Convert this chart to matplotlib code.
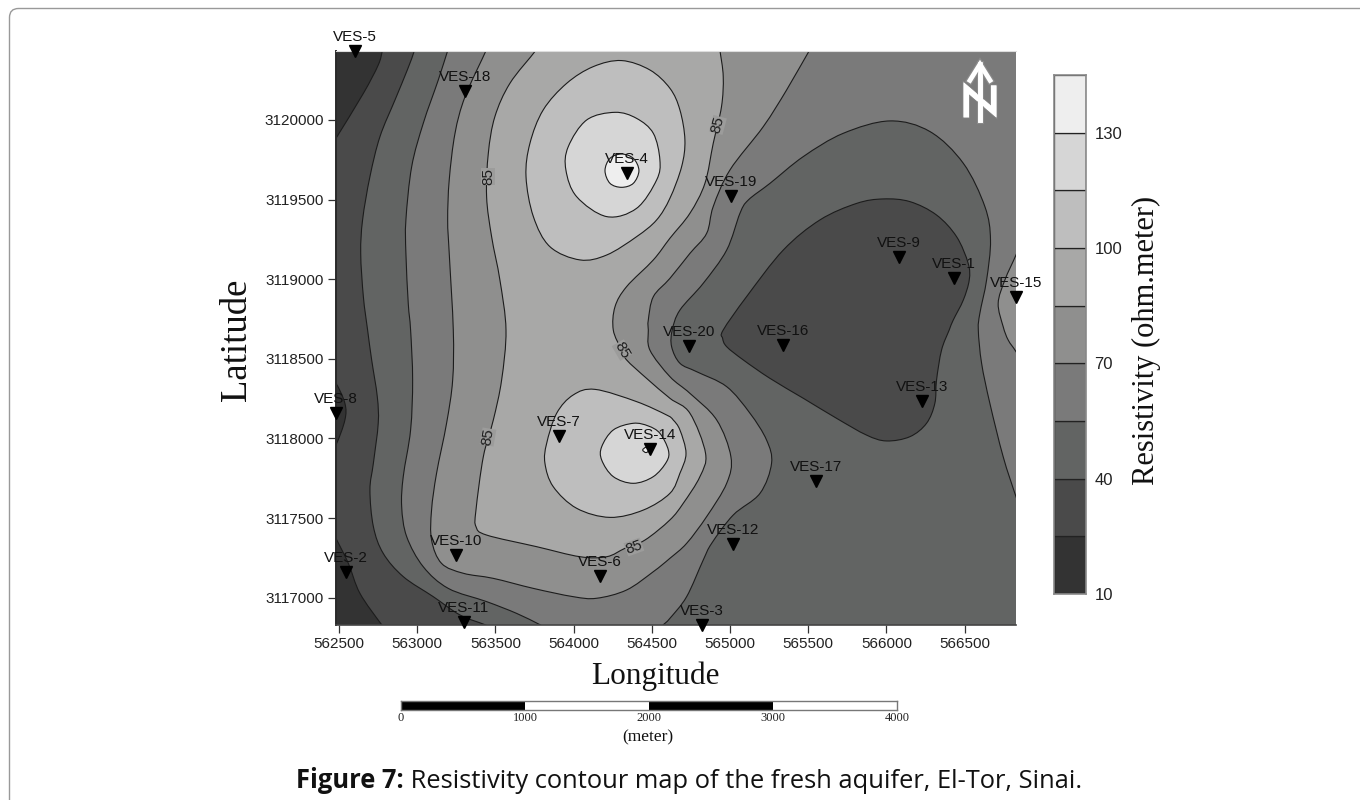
"""
plot.py
=====
resistivity contour map of the fresh aquifer, El-Tor, Sinai
contour lines and VES stations are read off the published map
"""
import matplotlib
matplotlib.use('Agg')
import matplotlib.pyplot as plt
import matplotlib.patheffects as pe
from matplotlib.patches import FancyBboxPatch, PathPatch
from matplotlib.path import Path
from matplotlib.transforms import IdentityTransform

# ===== stations
ves_names = ['VES-1', 'VES-2', 'VES-3', 'VES-4', 'VES-5', 'VES-6', 'VES-7',
             'VES-8', 'VES-9', 'VES-10', 'VES-11', 'VES-12', 'VES-13',
             'VES-14', 'VES-15', 'VES-16', 'VES-17', 'VES-18', 'VES-19',
             'VES-20']
ves_lon = [566432, 562545, 564821, 564341, 562602, 564169, 563907, 562481,
           566081, 563248, 563299, 565019, 566228, 564489, 566829, 565339,
           565550, 563306, 565006, 564738]
ves_lat = [3119008, 3117161, 3116828, 3119667, 3120433, 3117136, 3118015,
           3118160, 3119140, 3117268, 3116847, 3117337, 3118235, 3117934,
           3118888, 3118587, 3117733, 3120182, 3119523, 3118581]

# ===== resistivity classes, one grey for each band
levels = [10, 25, 40, 55, 70, 85, 100, 115, 130, 145]
band_colors = ['#333333', '#4a4a4a', '#626463', '#7a7a7a', '#8f8f8e',
               '#a8a8a7', '#bebebe', '#d6d6d6', '#eeeeee']
bar_ticks = [10, 40, 70, 100, 130]

# ===== contour lines, digitised (longitude, latitude)
# open lines start and end just outside the map frame
c25_top_lon = [562788, 562777, 562751, 562656, 562481, 562421]
c25_top_lat = [3120502, 3120435, 3120345, 3120167, 3119885, 3119790]

c25_mid_lon = [562421, 562481, 562538, 562538, 562481, 562421]
c25_mid_lat = [3118409, 3118346, 3118220, 3118116, 3117959, 3117864]

c25_low_lon = [562421, 562481, 562560, 562634, 562773, 562837]
c25_low_lat = [3117488, 3117372, 3117215, 3117027, 3116830, 3116755]

c40_west_lon = [562997, 562982, 562937, 562858, 562762, 562698, 562651, 562639,
                562656, 562683, 562709, 562745, 562751, 562720, 562698, 562720,
                562783, 562911, 563103, 563274, 563433, 563529]
c40_west_lat = [3120502, 3120435, 3120314, 3120125, 3119895, 3119644, 3119372,
                3119162, 3118890, 3118681, 3118493, 3118262, 3118095, 3117844,
                3117676, 3117446, 3117278, 3117132, 3117006, 3116891, 3116830,
                3116786]

c40_east_lon = [564957, 565106, 565341, 565575, 565810, 565980, 566151, 566321,
                566449, 566523, 566530, 566492, 566428, 566402, 566353, 566321,
                566310, 566257, 566151, 566001, 565873, 565682, 565469, 565256,
                565085, 564979, 564953]
c40_east_lat = [3118681, 3118890, 3119183, 3119372, 3119476, 3119504, 3119487,
                3119403, 3119267, 3119100, 3118995, 3118869, 3118744, 3118681,
                3118555, 3118367, 3118220, 3118095, 3118011, 3117984, 3118021,
                3118126, 3118252, 3118377, 3118493, 3118576, 3118629]

c55_lon = [563220, 563195, 563135, 563039, 562965, 562928, 562928, 562943,
           562958, 562971, 562958, 562911, 562901, 562933, 563039, 563199,
           563444, 563636, 563785, 563892,
           564510, 564574, 564616, 564723, 564829, 564883, 565021, 565192,
           565266, 565234, 565128, 564979, 564787, 564680, 564627, 564631,
           564680, 564829, 564979, 565064, 565117, 565256, 565469, 565724,
           566023, 566279, 566492, 566630, 566666, 566641, 566598, 566588,
           566609, 566662, 566747, 566829, 566896]
c55_lat = [3120502, 3120435, 3120251, 3119979, 3119707, 3119372, 3119162,
           3118848, 3118681, 3118367, 3118053, 3117760, 3117571, 3117383,
           3117194, 3117058, 3116975, 3116901, 3116830, 3116776,
           3116776, 3116830, 3116870, 3117006, 3117236, 3117341, 3117519,
           3117655, 3117844, 3117990, 3118158, 3118325, 3118419, 3118472,
           3118576, 3118681, 3118806, 3118974, 3119183, 3119414, 3119497,
           3119602, 3119770, 3119916, 3119994, 3119927, 3119728, 3119456,
           3119246, 3118995, 3118786, 3118681, 3118472, 3118220, 3117885,
           3117634, 3117446]

c70_lon = [563465, 563440, 563306, 563242, 563205, 563195, 563205, 563231,
           563227, 563188, 563124, 563092, 563092, 563156, 563295, 563487,
           563743, 563998, 564147, 564339, 564510, 564616, 564723, 564851,
           564979, 565006, 564915, 564744, 564616, 564488, 564478, 564478,
           564510, 564616, 564744, 564851, 564893, 565000, 565213, 565362,
           565507, 565554]
c70_lat = [3120502, 3120435, 3120146, 3119916, 3119623, 3119372, 3119162,
           3118681, 3118367, 3118095, 3117781, 3117550, 3117362, 3117215,
           3117153, 3117121, 3117058, 3117006, 3116996, 3117048, 3117163,
           3117247, 3117341, 3117509, 3117718, 3117885, 3118116, 3118283,
           3118388, 3118555, 3118681, 3118744, 3118890, 3119005, 3119162,
           3119288, 3119456, 3119686, 3119958, 3120188, 3120435, 3120502]

c70_east_lon = [566875, 566829, 566758, 566715, 566747, 566779, 566829, 566896]
c70_east_lat = [3119267, 3119152, 3118995, 3118848, 3118702, 3118618, 3118545,
                3118430]

c85_lon = [563796, 563757, 563593, 563497, 563455, 563444, 563476, 563529,
           563568, 563540, 563487, 563423, 563376, 563376, 563444, 563764,
           564041, 564212, 564329, 564457, 564616, 564701, 564808, 564844,
           564744, 564616, 564467, 564339, 564307, 564254, 564265, 564339,
           564510, 564616, 564744, 564840, 564893, 564946, 564957, 564936,
           564925]
c85_lat = [3120502, 3120435, 3120230, 3120021, 3119791, 3119518, 3119267,
           3118995, 3118681, 3118367, 3118116, 3117885, 3117550, 3117446,
           3117393, 3117320, 3117257, 3117257, 3117310, 3117362, 3117488,
           3117592, 3117760, 3117906, 3118158, 3118252, 3118377, 3118493,
           3118555, 3118681, 3118827, 3118953, 3119121, 3119257, 3119414,
           3119602, 3119853, 3120084, 3120272, 3120435, 3120502]

c100_north_lon = [564307, 564126, 563956, 563806, 563721, 563696, 563743,
                  563849, 564041, 564212, 564403, 564531, 564616, 564691,
                  564712, 564680, 564616, 564488]
c100_north_lat = [3120373, 3120335, 3120230, 3120063, 3119853, 3119644,
                  3119393, 3119204, 3119121, 3119152, 3119267, 3119372,
                  3119508, 3119707, 3119874, 3120063, 3120199, 3120314]

c100_south_lon = [564137, 563998, 563892, 563828, 563817, 563870, 564020,
                  564233, 564446, 564616, 564680, 564719, 564680, 564637,
                  564595, 564403]
c100_south_lat = [3118308, 3118273, 3118158, 3117969, 3117844, 3117697,
                  3117561, 3117504, 3117550, 3117655, 3117781, 3117906,
                  3118053, 3118116, 3118147, 3118231]

c115_north_lon = [564265, 564084, 563966, 563951, 564020, 564212, 564403,
                  564531, 564552, 564510, 564403]
c115_north_lat = [3120048, 3120000, 3119832, 3119686, 3119518, 3119393,
                  3119445, 3119623, 3119749, 3119916, 3120010]

c115_south_lon = [564382, 564254, 564180, 564180, 564254, 564382, 564510,
                  564595, 564606, 564552, 564478]
c115_south_lat = [3118095, 3118053, 3117948, 3117864, 3117760, 3117718,
                  3117760, 3117854, 3117927, 3118032, 3118078]

c130_north_lon = [564307, 564233, 564201, 564233, 564307, 564382, 564418, 564382]
c130_north_lat = [3119786, 3119759, 3119682, 3119602, 3119577, 3119602,
                  3119682, 3119759]

c130_south_lon = [564463, 564442, 564463, 564484]
c130_south_lat = [3117944, 3117927, 3117911, 3117927]

# ===== in-line "85" labels
label85_lon = [563453, 564923, 564310, 563453, 564386]
label85_lat = [3119642, 3119969, 3118555, 3118009, 3117318]
label85_rot = [90, 75, -60, 80, 20]

# ===== axis ticks and limits
lon_ticks = [562500, 563000, 563500, 564000, 564500, 565000, 565500, 566000, 566500]
lat_ticks = [3117000, 3117500, 3118000, 3118500, 3119000, 3119500, 3120000]
lon_lim = (562481, 566829)
lat_lim = (3116830, 3120435)

# scale bar, metres
scale_ticks = [0, 1000, 2000, 3000, 4000]
scale_colors = ['black', 'white', 'black', 'white']

# closing points outside the frame
west, east, north, south = 562200, 567100, 3120700, 3116600


W, H = 1360, 800


def px_axes(x0, y0, x1, y1):
    """axes from pixel box, y counted from the top of the picture"""
    return fig.add_axes([x0 / W, 1 - y1 / H, (x1 - x0) / W, (y1 - y0) / H])


def curve(lon, lat, closed=False, outside=None):
    pts = list(zip(lon, lat))
    n = len(pts)
    verts = [pts[0]]
    codes = [Path.MOVETO]
    for i in range(n if closed else n - 1):
        if closed:
            p0, p1, p2, p3 = [pts[(i + k) % n] for k in (-1, 0, 1, 2)]
        else:
            p0 = pts[max(i - 1, 0)]
            p1 = pts[i]
            p2 = pts[i + 1]
            p3 = pts[min(i + 2, n - 1)]
        verts.append((p1[0] + (p2[0] - p0[0]) / 6, p1[1] + (p2[1] - p0[1]) / 6))
        verts.append((p2[0] - (p3[0] - p1[0]) / 6, p2[1] - (p3[1] - p1[1]) / 6))
        verts.append(p2)
        codes += [Path.CURVE4] * 3
    if outside:
        for p in outside:
            verts.append(p)
            codes.append(Path.LINETO)
    verts.append(pts[0])
    codes.append(Path.CLOSEPOLY)
    return Path(verts, codes)


def band(lon, lat, color, closed=False, outside=None):
    ax.add_patch(PathPatch(curve(lon, lat, closed, outside), facecolor=color,
                           edgecolor='#1c1c1c', linewidth=0.8))


plt.rcParams['font.family'] = ['Liberation Sans', 'DejaVu Sans']
fig = plt.figure(figsize=(W / 100, H / 100), dpi=100, facecolor='white')

# ===== rounded page frame, open to the right and the bottom
fig.add_artist(FancyBboxPatch((9.5, -60), 1500, H - 8.5 + 60,
                              boxstyle='round,pad=0,rounding_size=9',
                              transform=IdentityTransform(), fill=False,
                              edgecolor='#999999', linewidth=1.0))

# ===== map
ax = px_axes(336, 50.7, 1016, 624.7)
ax.set_facecolor(band_colors[2])

# painted from the outer classes to the inner ones
band(c55_lon, c55_lat, band_colors[3], outside=[(east, south), (east, north), (west + 900, north)])
band(c70_lon, c70_lat, band_colors[4], outside=[(565554, north), (563465, north)])
band(c70_east_lon, c70_east_lat, band_colors[4], outside=[(east, 3118430), (east, 3119267)])
band(c85_lon, c85_lat, band_colors[5], outside=[(564925, north), (563796, north)])
band(c100_north_lon, c100_north_lat, band_colors[6], closed=True)
band(c100_south_lon, c100_south_lat, band_colors[6], closed=True)
band(c115_north_lon, c115_north_lat, band_colors[7], closed=True)
band(c115_south_lon, c115_south_lat, band_colors[7], closed=True)
band(c130_north_lon, c130_north_lat, band_colors[8], closed=True)
band(c130_south_lon, c130_south_lat, band_colors[8], closed=True)
band(c40_west_lon, c40_west_lat, band_colors[1], outside=[(563529, south), (west, south), (west, north), (562997, north)])
band(c40_east_lon, c40_east_lat, band_colors[1], closed=True)
band(c25_top_lon, c25_top_lat, band_colors[0], outside=[(west, 3119790), (west, north), (562788, north)])
band(c25_mid_lon, c25_mid_lat, band_colors[0], outside=[(west, 3117864), (west, 3118409)])
band(c25_low_lon, c25_low_lat, band_colors[0], outside=[(562837, south), (west, south), (west, 3117488)])

for x, y, r in zip(label85_lon, label85_lat, label85_rot):
    ax.text(x, y, '85', rotation=r, rotation_mode='anchor', ha='center', va='center',
            fontsize=11, color='#1c1c1c', zorder=4,
            bbox=dict(facecolor='#9c9c9b', edgecolor='none', pad=0))

ax.plot(ves_lon, ves_lat, linestyle='none', marker='v', markersize=8.5,
        color='black', clip_on=False, zorder=6)
for name, x, y in zip(ves_names, ves_lon, ves_lat):
    ax.annotate(name, (x, y), xytext=(0, 10.3), textcoords='offset points',
                ha='center', va='center', fontsize=11, color='#111111',
                annotation_clip=False, zorder=7)

ax.set_xlim(lon_lim)
ax.set_ylim(lat_lim)
ax.set_xticks(lon_ticks)
ax.set_yticks(lat_ticks)
ax.set_xticklabels([str(v) for v in lon_ticks])
ax.set_yticklabels([str(v) for v in lat_ticks])
ax.tick_params(length=6, width=0.9, color='#333333', labelsize=11, labelcolor='#222222', pad=2.5)
ax.spines['right'].set_visible(False)
ax.spines['top'].set_color('#dddddd')
ax.spines['left'].set_color('#2a2a2a')
ax.spines['left'].set_linewidth(1.4)
ax.spines['bottom'].set_color('#444444')
ax.spines['bottom'].set_linewidth(1.2)

# ===== north arrow
ax_n = px_axes(962, 60, 998, 120)
ax_n.set_xlim(0, 1)
ax_n.set_ylim(0, 1)
ax_n.axis('off')
stroke = [pe.Stroke(linewidth=5.2, foreground='#8a8a8a'), pe.Normal()]
n_x = [0.12, 0.12, 0.88, 0.88]
n_y = [0.09, 0.53, 0.14, 0.53]
ax_n.plot(n_x, n_y, color='white', lw=3.9, solid_joinstyle='miter',
          path_effects=stroke, clip_on=False)
ax_n.plot([0.5, 0.5], [0.0, 0.93], color='white', lw=3.4, path_effects=stroke, clip_on=False)
ax_n.plot([0.22, 0.5, 0.78], [0.66, 0.93, 0.66], color='white', lw=3.4,
          solid_joinstyle='miter', path_effects=stroke, clip_on=False)
ax_n.plot(n_x, n_y, color='white', lw=3.9, solid_joinstyle='miter', clip_on=False)
ax_n.plot([0.5, 0.5], [0.0, 0.93], color='white', lw=3.4, clip_on=False)

# ===== colour bar
ax_c = px_axes(1054, 75, 1086, 594)
for i, c in enumerate(band_colors):
    ax_c.bar(0, levels[i + 1] - levels[i], bottom=levels[i], width=1, color=c,
             edgecolor='#222222', linewidth=0.9)
ax_c.set_xlim(-0.5, 0.5)
ax_c.set_ylim(levels[0], levels[-1])
ax_c.set_xticks([])
ax_c.yaxis.tick_right()
ax_c.set_yticks(bar_ticks)
ax_c.set_yticklabels([str(v) for v in bar_ticks])
ax_c.tick_params(length=0, labelsize=12, labelcolor='#222222', pad=6)
for s in ax_c.spines.values():
    s.set_color('#8a8a8a')
    s.set_linewidth(1.2)
fig.text(1146 / W, 1 - 340 / H, 'Resistivity (ohm.meter)', rotation=90, ha='center',
         va='center', fontsize=22, family='Liberation Serif', color='#111111')

# ===== scale bar
ax_s = px_axes(401, 700.7, 897, 710)
for i, c in enumerate(scale_colors):
    ax_s.barh(0.5, scale_ticks[i + 1] - scale_ticks[i], left=scale_ticks[i],
              height=1, color=c, linewidth=0)
ax_s.set_xlim(scale_ticks[0], scale_ticks[-1])
ax_s.set_ylim(0, 1)
ax_s.set_yticks([])
ax_s.set_xticks(scale_ticks)
ax_s.set_xticklabels([str(v) for v in scale_ticks], family='Liberation Serif')
ax_s.tick_params(length=0, labelsize=9, labelcolor='#222222', pad=1.5)
for s in ax_s.spines.values():
    s.set_color('#777777')
    s.set_linewidth(1.0)

# ===== axis titles and caption
fig.text(655 / W, 1 - 676 / H, 'Longitude', ha='center', va='center', fontsize=22.5,
         family='Liberation Serif', color='#111111')
fig.text(237 / W, 1 - 340 / H, 'Latitude', rotation=90, ha='center', va='center',
         fontsize=26.5, family='Liberation Serif', color='#111111')
fig.text(648 / W, 1 - 737 / H, '(meter)', ha='center', va='center', fontsize=12.5,
         family='Liberation Serif', color='#111111')

cap = fig.text(296 / W, 1 - 788 / H, 'Figure 7:', fontsize=18.4, fontweight='bold',
               family='Open Sans', color='#111111', va='baseline')
ax.annotate(' Resistivity contour map of the fresh aquifer, El-Tor, Sinai.',
            xy=(1, 0), xycoords=cap, va='bottom', fontsize=18.4,
            family='Open Sans', color='#111111', annotation_clip=False)

fig.savefig('out.png', dpi=100)
plt.close()
